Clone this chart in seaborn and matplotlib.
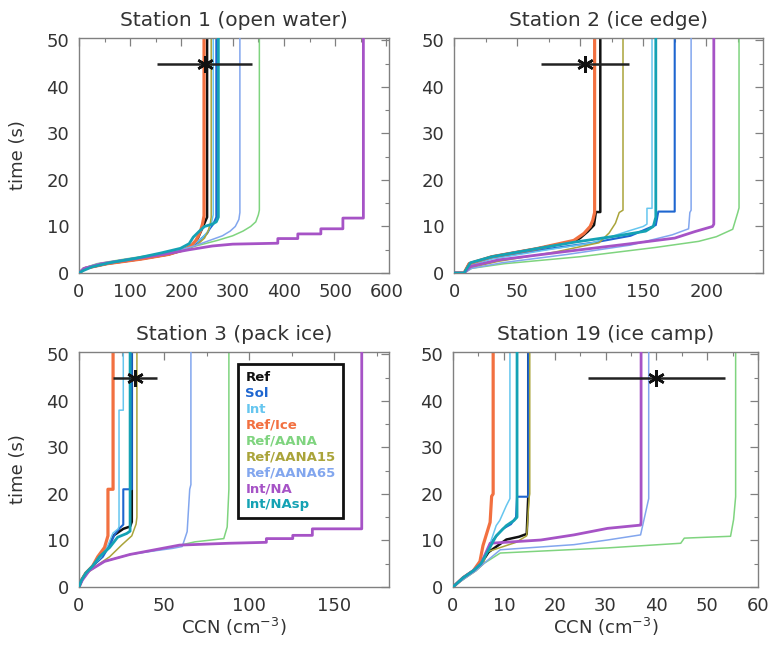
import numpy as np
import pandas as pd
import matplotlib
matplotlib.use("Agg")
import matplotlib.pyplot as plt
from matplotlib.ticker import MultipleLocator
import seaborn as sns

sns.set_theme(style="white")
plt.rcParams['font.family'] = ['DejaVu Sans']

# ---------------- data ----------------
series_names = ["Ref", "Sol", "Int", "Ref/Ice", "Ref/AANA", "Ref/AANA15",
                "Ref/AANA65", "Int/NA", "Int/NAsp"]
series_colors = ["#111111", "#1e66d0", "#66c6ef", "#f27040", "#7fd47f",
                 "#aaa43a", "#82a6ee", "#a653c6", "#14a2b4"]
series_widths = [1.8, 1.5, 1.1, 2.3, 1.1, 1.1, 1.1, 2.0, 2.0]

titles = ["Station 1 (open water)", "Station 2 (ice edge)",
          "Station 3 (pack ice)", "Station 19 (ice camp)"]
xmax = [605, 245, 182, 60]
xmajor = [100, 50, 50, 10]
xminor = [50, 25, 25, 5]

obs_ccn = [245, 104, 33, 40]
obs_err = [92, 35, 13, 13.5]
obs_time = [45, 45, 45, 45]

# Station 1 : (CCN, time)
s1_Ref = ([0, 12, 55, 120, 175, 205, 222, 232, 238, 244, 250, 250],
          [0, 1, 2, 3, 4, 5, 6, 7.5, 9, 10.5, 12, 51])
s1_Sol = ([0, 10, 50, 115, 170, 205, 225, 240, 250, 255, 262, 268, 268],
          [0, 1, 2, 3, 4, 5, 6, 7.5, 8.5, 9.5, 10.5, 12, 51])
s1_Int = ([0, 10, 45, 110, 165, 200, 222, 240, 252, 258, 262, 262],
          [0, 1, 2, 3, 4, 5, 6, 7.5, 9, 10.5, 12.5, 51])
s1_Ice = ([0, 12, 55, 122, 175, 205, 220, 228, 233, 237, 241, 244, 244],
          [0, 1, 2, 3, 4, 5, 6, 7, 8, 9, 10.5, 12.3, 51])
s1_AANA = ([0, 8, 35, 90, 150, 200, 235, 270, 300, 320, 335, 345, 350, 352, 352],
           [0, 1, 2, 3, 4, 5, 6, 7, 8, 9, 10, 11, 12.5, 13.5, 51])
s1_AANA15 = ([0, 8, 40, 100, 160, 205, 230, 245, 252, 256, 258, 258],
             [0, 1, 2, 3, 4, 5, 6, 7.5, 9, 10.5, 12, 51])
s1_AANA65 = ([0, 8, 38, 95, 155, 200, 230, 255, 280, 295, 305, 312, 314, 314],
             [0, 1, 2, 3, 4, 5, 6, 7, 8, 9, 10, 11.5, 13, 51])
s1_NA = ([0, 10, 45, 105, 165, 215, 260, 300, 388, 388, 427, 427, 472, 472, 515, 515, 555, 555],
         [0, 1, 2, 3, 4, 5, 5.8, 6.2, 6.4, 7.4, 7.4, 8.4, 8.4, 9.5, 9.5, 11.8, 11.8, 51])
s1_NAsp = ([0, 8, 25, 60, 113, 160, 198, 215, 223, 235, 245, 260, 268, 272, 272],
           [0, 0.5, 1.3, 2.2, 3.2, 4.3, 5.3, 6.3, 7.7, 9, 10, 10.5, 11, 12, 51])

# Station 2
s2_Ref = ([0, 8, 12, 30, 65, 95, 100, 106, 111, 112.5, 116, 116],
          [0, 0, 2, 3.5, 5.2, 6.8, 7.5, 8.9, 10.3, 13.1, 13.1, 51])
s2_Sol = ([0, 8, 12, 30, 70, 110, 140, 153, 160, 162, 175, 175],
          [0, 0, 1.8, 3.2, 5, 6.5, 8, 9.5, 10.3, 13.2, 13.2, 51])
s2_Int = ([0, 8, 12, 30, 70, 110, 138, 150, 153, 153, 157, 157],
          [0, 0, 1.6, 3, 4.8, 6.5, 9, 10, 10.5, 13.9, 13.9, 51])
s2_Ice = ([0, 8, 12, 30, 65, 95, 103, 108, 110, 111.5, 111.5],
          [0, 0, 2, 3.5, 5.2, 7, 8.5, 10, 11.3, 13, 51])
s2_AANA = ([0, 8, 14, 40, 100, 160, 194, 208, 221, 225, 226, 226],
           [0, 0, 1, 2, 3.5, 5.5, 6.8, 7.8, 9.4, 13, 14, 51])
s2_AANA15 = ([0, 8, 14, 35, 80, 115, 123, 128, 131, 134, 134],
             [0, 0, 1.2, 2.5, 4.5, 6.5, 8.6, 10.7, 13, 13.5, 51])
s2_AANA65 = ([0, 8, 14, 38, 90, 140, 173, 186, 187, 188, 188],
             [0, 0, 1, 2.2, 4, 6, 8.2, 9.5, 13, 13.5, 51])
s2_NA = ([0, 8, 13, 35, 85, 140, 175, 191, 205, 206, 206],
         [0, 0, 1.4, 2.8, 4.5, 6.3, 7.5, 8.9, 10, 10.5, 51])
s2_NAsp = ([0, 8, 13, 30, 69, 95, 130, 152, 158, 160, 160],
           [0, 0, 2.2, 3.5, 5.4, 6.6, 8, 9, 10, 12, 51])

# Station 3
s3_Ref = ([0, 1.5, 4, 8, 13, 18, 20, 26, 30, 31, 31],
          [0, 1.5, 3, 4.5, 6.5, 9, 11, 12.5, 13, 14, 51])
s3_Sol = ([0, 1.5, 4, 8, 14, 18, 21, 24, 26, 26, 31, 31],
          [0, 1.5, 3, 4.5, 6.5, 9, 11.3, 12.7, 13.4, 21, 21, 51])
s3_Int = ([0, 1.5, 4, 8, 13, 17, 20, 23, 23.5, 23.5, 26, 26],
          [0, 1.5, 3, 4.5, 6.5, 9, 11.6, 12.5, 13, 38, 38, 51])
s3_Ice = ([0, 1.5, 4, 8, 11, 15, 17, 17, 20, 20],
          [0, 1.5, 3, 4.5, 6.5, 8.5, 11, 21, 21, 51])
s3_AANA = ([0, 2, 6, 15, 30, 50, 68, 85, 87, 88, 88],
           [0, 1.5, 3.5, 5.5, 7, 8.2, 9.7, 10.4, 12.9, 21, 51])
s3_AANA15 = ([0, 2, 5, 10, 18, 25, 31, 33.5, 34, 34],
             [0, 1.5, 3, 4.5, 6.5, 9, 11, 13.5, 15, 51])
s3_AANA65 = ([0, 2, 6, 15, 30, 45, 55, 60.6, 63.5, 65, 65.7, 65.7],
             [0, 1.5, 3.5, 5.5, 7, 7.8, 8.3, 8.7, 11.9, 21, 22, 51])
s3_NA = ([0, 2, 6, 15, 30, 59, 88, 110, 110, 125.5, 125.5, 137, 137, 166, 166],
         [0, 1.5, 3.5, 5.5, 7, 9, 9.4, 9.6, 10.4, 10.4, 11.1, 11.1, 12.5, 12.5, 51])
s3_NAsp = ([0, 1.5, 4, 8, 12, 18, 22.7, 28, 30, 30],
           [0, 1.5, 3, 4.5, 6.5, 8.5, 10.7, 11.5, 12, 51])

# Station 19
s4_Ref = ([0, 1, 2, 4, 5.5, 7, 10.5, 13, 14.5, 14.8, 14.8],
          [0, 1, 2, 3.5, 5, 7.5, 10.2, 10.8, 11.4, 19.4, 51])
s4_Sol = ([0, 1, 2, 4, 5.5, 6.5, 7.8, 9.8, 11.4, 12.4, 12.6, 14.8, 14.8],
          [0, 1, 2, 3.5, 5, 7, 10, 12.5, 13.5, 15, 19.4, 19.4, 51])
s4_Int = ([0, 1, 2, 4, 5.5, 6.5, 7.5, 8.5, 9.2, 10.5, 11.2, 11.2],
          [0, 1, 2, 3.5, 5, 7, 10, 13.2, 14.3, 17.5, 19, 51])
s4_Ice = ([0, 1, 2, 4, 5.3, 5.9, 7.3, 7.6, 7.9, 7.9],
          [0, 1, 2, 3.5, 5.5, 8.9, 13.9, 19.5, 20, 51])
s4_AANA = ([0, 1.2, 2.5, 4.5, 6, 9.3, 30.4, 44.8, 45.5, 54.6, 55.2, 55.6, 55.6],
           [0, 1, 2, 3.5, 5, 7.3, 8.4, 9.4, 10.5, 10.9, 14.5, 19.4, 51])
s4_AANA15 = ([0, 1.2, 2.5, 4.5, 6, 6.6, 12.4, 14.5, 15, 15.1, 15.1],
             [0, 1, 2, 3.5, 5, 7.5, 9.6, 11, 19.4, 20, 51])
s4_AANA65 = ([0, 1.2, 2.5, 4.5, 6, 9.3, 23.8, 30.4, 36.9, 38.5, 38.5],
             [0, 1, 2, 3.5, 5, 8, 9.1, 10.1, 11.2, 19, 51])
s4_NA = ([0, 1, 2, 4, 5.5, 7.3, 17.3, 23.8, 30.4, 36.9, 37, 37],
         [0, 1, 2, 3.5, 5, 9.4, 10.1, 11.2, 12.6, 13.3, 14, 51])
s4_NAsp = ([0, 1, 2, 4, 5.5, 6.5, 8.5, 10.5, 12, 12.6, 12.6],
           [0, 1, 2, 3.5, 5, 7, 11, 13.2, 14.3, 15, 51])

stations = [
    [s1_Ref, s1_Sol, s1_Int, s1_Ice, s1_AANA, s1_AANA15, s1_AANA65, s1_NA, s1_NAsp],
    [s2_Ref, s2_Sol, s2_Int, s2_Ice, s2_AANA, s2_AANA15, s2_AANA65, s2_NA, s2_NAsp],
    [s3_Ref, s3_Sol, s3_Int, s3_Ice, s3_AANA, s3_AANA15, s3_AANA65, s3_NA, s3_NAsp],
    [s4_Ref, s4_Sol, s4_Int, s4_Ice, s4_AANA, s4_AANA15, s4_AANA65, s4_NA, s4_NAsp],
]

# ---------------- figure ----------------
fig = plt.figure(figsize=(7.71, 6.52), dpi=100)
W, H = 771, 652
boxes = [(79, 38, 389, 273), (454, 38, 763, 273),
         (79, 352, 389, 587), (453, 352, 758, 587)]

tick_col = "#333333"
spine_col = "#808080"

for i, (l, t, r, b) in enumerate(boxes):
    ax = fig.add_axes([l / W, 1 - b / H, (r - l) / W, (b - t) / H])
    for j, (xs, ts) in enumerate(stations[i]):
        df = pd.DataFrame({"ccn": xs, "time": ts})
        sns.lineplot(data=df, x="ccn", y="time", sort=False, estimator=None,
                     color=series_colors[j], lw=series_widths[j], ax=ax,
                     zorder=2 + j * 0.1)
    ax.errorbar(obs_ccn[i], obs_time[i], xerr=obs_err[i], fmt="none",
                ecolor="#222222", elinewidth=1.8, capsize=0, zorder=5)
    ax.plot(obs_ccn[i], obs_time[i], marker=(6, 2, 0), ms=12, mew=1.8,
            color="#111111", ls="none", zorder=6)

    ax.set_xlim(0, xmax[i])
    ax.set_ylim(0, 50.5)
    ax.xaxis.set_major_locator(MultipleLocator(xmajor[i]))
    ax.xaxis.set_minor_locator(MultipleLocator(xminor[i]))
    ax.yaxis.set_major_locator(MultipleLocator(10))
    ax.yaxis.set_minor_locator(MultipleLocator(5))
    ax.tick_params(which="both", direction="in", top=True, right=True,
                   colors=spine_col, labelcolor=tick_col, labelsize=13)
    ax.tick_params(which="major", length=6, width=0.9, pad=7)
    ax.tick_params(which="minor", length=3, width=0.8)
    for s in ax.spines.values():
        s.set_color(spine_col)
        s.set_linewidth(1.0)
    ax.set_title(titles[i], fontsize=14.5, color="#333333", pad=9)
    ax.set_xlabel("")
    ax.set_ylabel("")
    if i % 2 == 0:
        ax.set_ylabel("time (s)", fontsize=13, color="#333333", labelpad=14)
    if i >= 2:
        ax.set_xlabel("CCN (cm$^{-3}$)", fontsize=13, color="#333333", labelpad=1)

    if i == 2:
        handles = [plt.Line2D([], [], color=c, lw=0) for c in series_colors]
        leg = ax.legend(handles, series_names, loc="upper left",
                        bbox_to_anchor=(0.513, 0.95), handlelength=0,
                        handletextpad=0, labelcolor=series_colors,
                        fontsize=9.5, frameon=True, fancybox=False,
                        borderpad=0.55, labelspacing=0.22, borderaxespad=0)
        fr = leg.get_frame()
        fr.set_edgecolor("#111111")
        fr.set_linewidth(2.0)
        fr.set_facecolor("white")
        fr.set_alpha(1)
        for txt in leg.get_texts():
            txt.set_fontweight("bold")

fig.savefig("out.png", dpi=100)
